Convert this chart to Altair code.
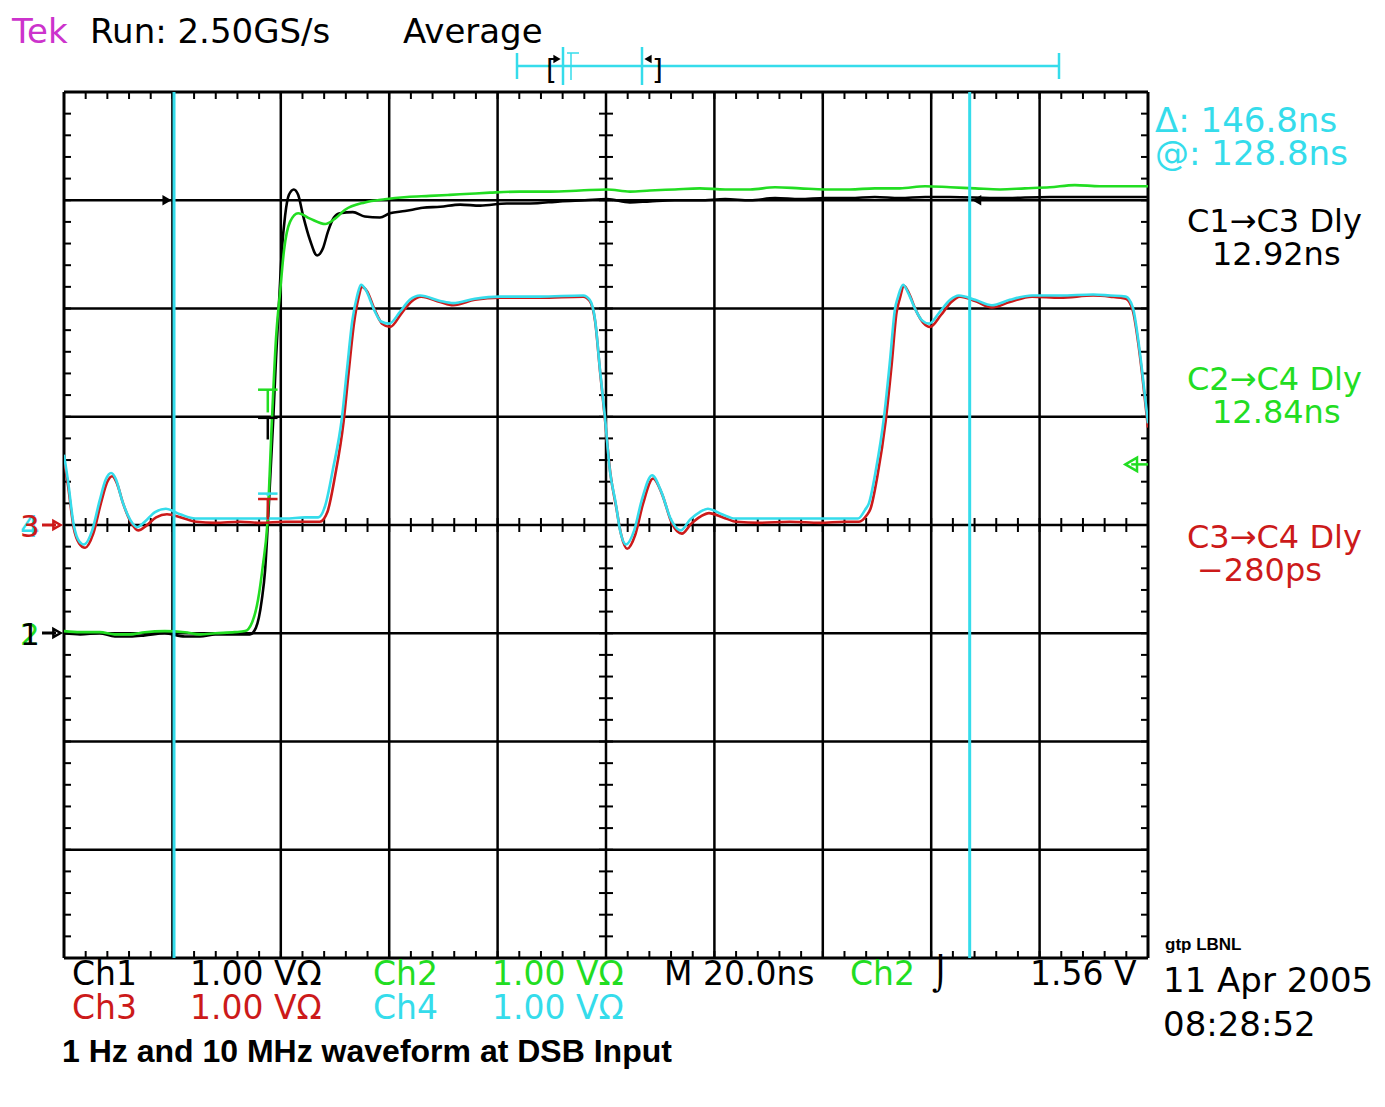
import altair as alt
import pandas as pd

# ---------------- data (time in ns, volts) ----------------
T_CH1 = [0.0, 3.0, 6.6, 9.4, 12.2, 14.9, 18.6, 22.3, 25.1, 27.9, 31.5, 34.3, 35.4, 36.5, 37.1, 37.6,
         38.6, 39.1, 39.7, 40.2, 40.8, 41.5, 42.4, 43.2, 44.1, 45.4, 46.7, 47.8, 48.7, 49.8, 50.9,
         53.3, 55.5, 58.3, 60.1, 62.9, 66.2, 69.4, 73.1, 76.8, 81.7, 86.0, 91.5, 96.1, 100.2, 104.4,
         108.1, 112.7, 117.3, 122.0, 126.6, 131.2, 135.8, 140.4, 145.0, 149.6, 154.2, 158.9, 163.5,
         172.7, 181.9, 191.1, 200.0]
V_CH1 = [0.00, -0.01, 0.00, -0.03, -0.03, -0.02, 0.00, -0.03, -0.03, -0.01, -0.01, -0.01, 0.05, 0.31,
         0.58, 1.00, 1.97, 2.52, 3.08, 3.54, 3.86, 4.05, 4.10, 4.05, 3.86, 3.63, 3.49, 3.56, 3.71, 3.84,
         3.88, 3.89, 3.85, 3.84, 3.88, 3.90, 3.93, 3.94, 3.96, 3.95, 3.97, 3.97, 3.99, 4.00, 4.01, 3.98,
         3.99, 4.00, 4.00, 4.01, 4.00, 4.02, 4.01, 4.02, 4.02, 4.03, 4.02, 4.03, 4.03, 4.02, 4.03, 4.03,
         4.03]

T_CH2 = [0.0, 3.0, 6.6, 9.4, 12.2, 14.9, 18.6, 22.3, 25.1, 27.9, 31.5, 33.4, 34.7, 35.8, 36.7, 37.5,
         38.4, 39.1, 39.9, 40.6, 41.7, 43.2, 45.4, 48.2, 50.0, 51.8, 55.5, 59.2, 63.3, 67.5, 71.2, 74.9,
         78.6, 84.1, 89.7, 95.2, 100.2, 104.4, 108.1, 112.7, 117.3, 122.0, 126.6, 131.2, 135.8, 140.4,
         145.0, 149.6, 154.2, 158.9, 163.5, 168.1, 172.7, 177.3, 181.9, 186.5, 191.1, 195.8, 200.0]
V_CH2 = [0.02, 0.01, 0.01, -0.01, -0.01, 0.01, 0.02, 0.01, -0.01, 0.00, 0.01, 0.02, 0.10, 0.31, 0.63,
         1.00, 2.01, 2.71, 3.17, 3.54, 3.80, 3.88, 3.83, 3.78, 3.83, 3.91, 3.98, 4.01, 4.03, 4.04, 4.05,
         4.06, 4.07, 4.08, 4.08, 4.09, 4.10, 4.08, 4.09, 4.10, 4.11, 4.10, 4.10, 4.12, 4.11, 4.10, 4.10,
         4.11, 4.11, 4.13, 4.12, 4.11, 4.10, 4.11, 4.12, 4.14, 4.13, 4.13, 4.13]

T_CH3 = [0.0, 0.7, 1.8, 2.8, 3.9, 5.4, 6.8, 8.0, 8.9, 9.8, 10.9, 12.4, 13.7, 15.1, 17.0, 19.0, 21.6,
         24.4, 27.9, 32.5, 36.2, 40.8, 44.5, 47.2, 48.6, 50.0, 51.6, 52.5, 53.5, 54.3, 55.0, 55.9, 57.4,
         58.7, 60.2, 62.2, 64.0, 65.9, 69.4, 71.8, 75.8, 80.4, 87.8, 95.8, 97.0, 98.0, 98.9, 99.8, 100.8,
         101.9, 102.8, 103.9, 105.4, 106.8, 108.7, 110.3, 112.2, 114.0, 115.7, 117.5, 119.0, 121.6,
         124.0, 128.4, 133.9, 139.5, 144.1, 146.7, 148.1, 148.8, 150.1, 151.6, 152.7, 153.6, 154.2,
         155.0, 155.9, 157.2, 158.5, 159.8, 161.8, 163.7, 165.3, 168.1, 171.2, 174.5, 178.6, 183.8,
         189.9, 193.0, 195.9, 197.2, 198.2, 198.9, 200.0]
V_CH3 = [0.60, 0.38, -0.03, -0.17, -0.21, -0.08, 0.20, 0.40, 0.45, 0.38, 0.20, 0.02, -0.05, -0.01,
         0.07, 0.10, 0.07, 0.03, 0.02, 0.03, 0.02, 0.03, 0.03, 0.03, 0.12, 0.45, 0.96, 1.40, 1.86, 2.09,
         2.20, 2.16, 1.98, 1.86, 1.83, 1.95, 2.06, 2.11, 2.06, 2.03, 2.08, 2.10, 2.10, 2.11, 2.07, 1.88,
         1.42, 0.98, 0.48, 0.16, -0.09, -0.22, -0.09, 0.19, 0.43, 0.29, 0.01, -0.08, 0.01, 0.08, 0.11,
         0.07, 0.03, 0.02, 0.03, 0.02, 0.03, 0.03, 0.09, 0.15, 0.46, 0.96, 1.48, 1.96, 2.09, 2.21, 2.14,
         1.98, 1.87, 1.83, 1.94, 2.06, 2.11, 2.07, 2.01, 2.06, 2.11, 2.10, 2.12, 2.11, 2.09, 1.98, 1.68,
         1.40, 0.90]

T_CH4 = [0.0, 0.7, 1.8, 2.8, 3.7, 5.2, 6.6, 7.7, 8.7, 9.6, 10.7, 12.2, 13.5, 14.9, 16.8, 18.8, 21.4,
         24.2, 27.9, 32.5, 36.2, 40.8, 44.5, 46.9, 48.2, 49.6, 51.3, 52.2, 53.2, 54.1, 54.8, 55.7, 57.2,
         58.5, 60.0, 62.0, 63.8, 65.7, 69.4, 71.8, 75.8, 80.4, 87.8, 95.8, 97.0, 98.0, 98.9, 99.8, 100.7,
         101.8, 102.6, 103.7, 105.2, 106.6, 108.5, 110.1, 112.0, 113.8, 115.5, 117.3, 118.8, 121.4,
         123.8, 128.4, 133.9, 139.5, 144.1, 146.5, 147.8, 148.5, 149.8, 151.3, 152.4, 153.3, 153.9,
         154.8, 155.7, 157.0, 158.3, 159.6, 161.6, 163.5, 165.1, 168.1, 171.2, 174.5, 178.6, 183.8,
         189.9, 193.0, 195.9, 197.2, 198.2, 198.9, 200.0]
V_CH4 = [0.65, 0.42, 0.00, -0.15, -0.18, -0.05, 0.23, 0.42, 0.48, 0.42, 0.23, 0.05, -0.02, 0.03, 0.12,
         0.15, 0.10, 0.06, 0.06, 0.06, 0.06, 0.06, 0.07, 0.07, 0.18, 0.51, 1.00, 1.43, 1.89, 2.12, 2.22,
         2.17, 1.99, 1.88, 1.86, 1.97, 2.08, 2.12, 2.07, 2.05, 2.09, 2.11, 2.11, 2.12, 2.08, 1.89, 1.43,
         1.00, 0.51, 0.20, -0.05, -0.18, -0.05, 0.23, 0.46, 0.32, 0.05, -0.05, 0.05, 0.12, 0.15, 0.10,
         0.06, 0.06, 0.06, 0.06, 0.06, 0.06, 0.14, 0.20, 0.51, 1.00, 1.52, 1.99, 2.11, 2.22, 2.15, 2.00,
         1.89, 1.86, 1.97, 2.08, 2.12, 2.08, 2.03, 2.08, 2.12, 2.12, 2.13, 2.12, 2.11, 2.01, 1.71, 1.43,
         0.94]

CHANNELS = ["Ch1", "Ch2", "Ch3", "Ch4"]
OFFSET_DIV = {"Ch1": -1.0, "Ch2": -1.0, "Ch3": 0.0, "Ch4": 0.0}   # ground markers
VOLTS_PER_DIV = 1.0
NS_PER_DIV = 20.0
CURSOR1 = 20.3
CURSOR_DELTA = 146.8
TRIGGER_LEVEL = 1.56

# ---------------- styling ----------------
BLACK = "#000000"
GREEN = "#22dd22"
RED = "#cc1a1a"
CYAN = "#35dceb"
MAGENTA = "#cc33cc"
COLORS = {"Ch1": BLACK, "Ch2": GREEN, "Ch3": RED, "Ch4": CYAN}
SCOPE_FONT = "DejaVu Sans"

W, H = 1084, 866
X0, Y0 = 64, 92

xs = alt.Scale(domain=[0, 10 * NS_PER_DIV], nice=False, zero=False)
ys = alt.Scale(domain=[-4, 4], nice=False, zero=False)

series = {"Ch1": (T_CH1, V_CH1), "Ch2": (T_CH2, V_CH2), "Ch3": (T_CH3, V_CH3), "Ch4": (T_CH4, V_CH4)}

layers = []

# graticule: major lines
major_t = [NS_PER_DIV * i for i in range(1, 10)]
major_s = [float(i) for i in range(-3, 4)]
layers.append(alt.Chart(pd.DataFrame({"t": major_t})).mark_rule(color=BLACK, strokeWidth=2.5)
              .encode(x=alt.X("t:Q", scale=xs, axis=None)))
layers.append(alt.Chart(pd.DataFrame({"s": major_s})).mark_rule(color=BLACK, strokeWidth=2.5)
              .encode(y=alt.Y("s:Q", scale=ys, axis=None)))
# border
layers.append(alt.Chart(pd.DataFrame({"t": [0.0, 10 * NS_PER_DIV]})).mark_rule(color=BLACK, strokeWidth=3)
              .encode(x=alt.X("t:Q", scale=xs, axis=None)))
layers.append(alt.Chart(pd.DataFrame({"s": [-4.0, 4.0]})).mark_rule(color=BLACK, strokeWidth=3)
              .encode(y=alt.Y("s:Q", scale=ys, axis=None)))

# minor ticks (5 per division)
TL_T = 7 / W * 200      # tick length in ns
TL_S = 7 / H * 8        # tick length in divisions
rows = []
for k in range(1, 50):
    t = k * NS_PER_DIV / 5
    rows.append((t, t, -TL_S, TL_S))
    rows.append((t, t, 4.0, 4.0 - TL_S))
    rows.append((t, t, -4.0, -4.0 + TL_S))
for k in range(-19, 20):
    s = k / 5
    rows.append((100 - TL_T, 100 + TL_T, s, s))
    rows.append((0.0, TL_T, s, s))
    rows.append((200.0 - TL_T, 200.0, s, s))
ticks = pd.DataFrame(rows, columns=["t", "t2", "s", "s2"])
layers.append(alt.Chart(ticks).mark_rule(color=BLACK, strokeWidth=2)
              .encode(x=alt.X("t:Q", scale=xs, axis=None), x2="t2:Q",
                      y=alt.Y("s:Q", scale=ys, axis=None), y2="s2:Q"))

# traces
for ch in CHANNELS:
    tt, vv = series[ch]
    df = pd.DataFrame({"t": tt, "v": vv})
    df["s"] = df["v"] / VOLTS_PER_DIV + OFFSET_DIV[ch]
    layers.append(alt.Chart(df).mark_line(color=COLORS[ch], strokeWidth=2.6, clip=True,
                                          interpolate="monotone")
                  .encode(x=alt.X("t:Q", scale=xs, axis=None),
                          y=alt.Y("s:Q", scale=ys, axis=None), order="t:Q"))

# measurement level markers (mid crossing, T-shaped)
def tmark(color, s_top, s_bot, t_mid=37.6, half=1.8):
    d = pd.DataFrame({"t": [t_mid - half], "t2": [t_mid + half], "s": [s_top], "tm": [t_mid], "sb": [s_bot]})
    bar = alt.Chart(d).mark_rule(color=color, strokeWidth=2.5).encode(
        x=alt.X("t:Q", scale=xs, axis=None), x2="t2:Q", y=alt.Y("s:Q", scale=ys, axis=None))
    stem = alt.Chart(d).mark_rule(color=color, strokeWidth=2.5).encode(
        x=alt.X("tm:Q", scale=xs, axis=None), y=alt.Y("s:Q", scale=ys, axis=None), y2="sb:Q")
    return [bar, stem]

layers += tmark(GREEN, 1.25, 1.04)
layers += tmark(BLACK, 0.99, 0.79)
layers += tmark(CYAN, 0.29, 0.27)
layers += tmark(RED, 0.24, 0.05)

# cursors
cur = pd.DataFrame({"t": [CURSOR1, CURSOR1 + CURSOR_DELTA]})
layers.append(alt.Chart(cur).mark_rule(color=CYAN, strokeWidth=3)
              .encode(x=alt.X("t:Q", scale=xs, axis=None)))

# reference arrows on Ch1 level
arr = pd.DataFrame({"t": [CURSOR1 - 1.3], "s": [3.0]})
layers.append(alt.Chart(arr).mark_point(shape="triangle-right", filled=True, color=BLACK, size=110, opacity=1)
              .encode(x=alt.X("t:Q", scale=xs, axis=None), y=alt.Y("s:Q", scale=ys, axis=None)))
arr2 = pd.DataFrame({"t": [CURSOR1 + CURSOR_DELTA + 1.3], "s": [3.0]})
layers.append(alt.Chart(arr2).mark_point(shape="triangle-left", filled=True, color=BLACK, size=110, opacity=1)
              .encode(x=alt.X("t:Q", scale=xs, axis=None), y=alt.Y("s:Q", scale=ys, axis=None)))

# trigger level marker (Ch2)
trg = pd.DataFrame({"t": [196.9], "t2": [200.0], "s": [TRIGGER_LEVEL / VOLTS_PER_DIV + OFFSET_DIV["Ch2"]]})
layers.append(alt.Chart(trg).mark_rule(color=GREEN, strokeWidth=2.5)
              .encode(x=alt.X("t:Q", scale=xs, axis=None), x2="t2:Q", y=alt.Y("s:Q", scale=ys, axis=None)))
layers.append(alt.Chart(trg).mark_point(shape="triangle-left", filled=False, color=GREEN, size=180,
                                         strokeWidth=2.5, opacity=1)
              .encode(x=alt.X("t:Q", scale=xs, axis=None), y=alt.Y("s:Q", scale=ys, axis=None)))

# ---------------- decorations outside plot (pixel positions) ----------------
ONE = pd.DataFrame({"k": [0]})

def label(txt, px, py, color, size=34, font=SCOPE_FONT, weight="normal"):
    return alt.Chart(ONE).mark_text(text=txt, align="left", baseline="alphabetic", font=font,
                                    fontSize=size, fontWeight=weight, color=color).encode(
        x=alt.value(px - X0), y=alt.value(py - Y0))

def hline(px1, px2, py, color, w=2.5):
    return alt.Chart(ONE).mark_rule(color=color, strokeWidth=w).encode(
        x=alt.value(px1 - X0), x2=alt.value(px2 - X0), y=alt.value(py - Y0))

def vline(px, py1, py2, color, w=2.5):
    return alt.Chart(ONE).mark_rule(color=color, strokeWidth=w).encode(
        x=alt.value(px - X0), y=alt.value(py1 - Y0), y2=alt.value(py2 - Y0))

def tri(shape, px, py, color, size=60, filled=True):
    return alt.Chart(ONE).mark_point(shape=shape, filled=filled, color=color, size=size, opacity=1,
                                     strokeWidth=2.5).encode(x=alt.value(px - X0), y=alt.value(py - Y0))

# header
layers += [label("Tek", 12, 43, MAGENTA), label("Run: 2.50GS/s", 90, 43, BLACK),
           label("Average", 403, 43, BLACK)]
# record bar
layers += [hline(517, 1059, 66, CYAN), vline(517, 53, 79, CYAN), vline(1059, 53, 79, CYAN),
           vline(563, 47, 85, CYAN), vline(642, 47, 85, CYAN),
           vline(571, 53, 80, CYAN, 1.5), hline(567, 579, 53, CYAN, 1.5),
           label("[", 546, 80, BLACK, 28), label("]", 652, 80, BLACK, 28),
           tri("triangle-right", 557, 59, BLACK, 70), tri("triangle-left", 648, 59, BLACK, 70)]

# right-side readouts
layers += [label("\u0394: 146.8ns", 1155, 132, CYAN, 34), label("@: 128.8ns", 1155, 165, CYAN, 34),
           label("C1\u2192C3 Dly", 1187, 232, BLACK, 32), label("12.92ns", 1212, 265, BLACK, 32),
           label("C2\u2192C4 Dly", 1187, 390, GREEN, 32), label("12.84ns", 1212, 423, GREEN, 32),
           label("C3\u2192C4 Dly", 1187, 548, RED, 32), label("\u2212280ps", 1197, 581, RED, 32)]

# channel ground markers
layers += [label("4", 20, 537, CYAN, 31), label("3", 20, 537, RED, 31),
           hline(42, 56, 525, RED, 3), tri("triangle-right", 57, 525, RED, 70, False),
           label("2", 20, 645, GREEN, 31), label("1", 20, 645, BLACK, 31),
           hline(42, 56, 633, BLACK, 3), tri("triangle-right", 57, 633, BLACK, 70, False)]

# bottom readouts
R1, R2, FS = 985, 1019, 33
layers += [label("Ch1", 72, R1, BLACK, FS), label("1.00 V\u03a9", 190, R1, BLACK, FS),
           label("Ch2", 373, R1, GREEN, FS), label("1.00 V\u03a9", 492, R1, GREEN, FS),
           label("M 20.0ns", 664, R1, BLACK, FS), label("Ch2", 850, R1, GREEN, FS),
           label("\u2321", 932, R1, BLACK, FS), label("1.56 V", 1030, R1, BLACK, FS),
           label("Ch3", 72, R2, RED, FS), label("1.00 V\u03a9", 190, R2, RED, FS),
           label("Ch4", 373, R2, CYAN, FS), label("1.00 V\u03a9", 492, R2, CYAN, FS),
           label("gtp LBNL", 1165, 950, BLACK, 17, "Liberation Sans", "bold"),
           label("11 Apr 2005", 1163, 992, BLACK), label("08:28:52", 1163, 1036, BLACK),
           label("1 Hz and 10 MHz waveform at DSB Input", 62, 1062, BLACK, 32, "Liberation Sans", "bold")]

chart = alt.layer(*layers).properties(
    width=W, height=H, autosize="none",
    padding={"left": X0, "top": Y0, "right": 1385 - X0 - W, "bottom": 1107 - Y0 - H},
    background="white",
).configure_view(stroke=None)

chart.save("out.html", embed_options={"renderer": "svg", "actions": False})
